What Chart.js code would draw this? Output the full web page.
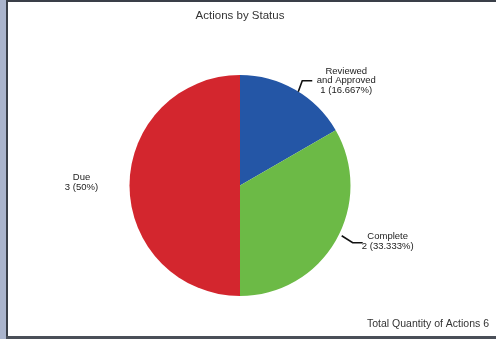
<!DOCTYPE html>
<html>
<head>
<meta charset="utf-8">
<script src="https://cdn.jsdelivr.net/npm/chart.js@4/dist/chart.umd.min.js"></script>
<style>
  html, body { margin: 0; padding: 0; background: #fff; }
  .frame { position: relative; width: 496px; height: 339px; overflow: hidden; }
  .band { position: absolute; left: 0; top: 0; width: 6px; height: 339px; background: #aab4cc; }
  .edgeL { position: absolute; left: 6px; top: 0; width: 2px; height: 339px; background: #3a3f48; }
  .edgeT { position: absolute; left: 6px; top: 0; width: 490px; height: 2px; background: #3a3f48; }
  .edgeB { position: absolute; left: 6px; top: 336px; width: 490px; height: 3px; background: #4a4f58; }
  canvas { position: absolute; left: 0; top: 0; }
</style>
</head>
<body>
<div class="frame">
  <canvas id="pie" width="496" height="339"></canvas>
  <div class="band"></div>
  <div class="edgeL"></div>
  <div class="edgeT"></div>
  <div class="edgeB"></div>
</div>
<script>
const statuses = ['Reviewed and Approved', 'Complete', 'Due'];
const labelLines = [['Reviewed', 'and Approved'], ['Complete'], ['Due']];
const quantities = [1, 2, 3];
const percentText = ['16.667%', '33.333%', '50%'];
const sliceColors = ['#2456a6', '#6cba46', '#d3262e'];

const total = quantities.reduce((a, b) => a + b, 0);

// draws the slice labels with their leader lines, title and footer
const pieLabels = {
  id: 'pieLabels',
  afterDraw(chart) {
    const ctx = chart.ctx;
    const arcs = chart.getDatasetMeta(0).data;
    ctx.save();
    ctx.fillStyle = '#222';
    ctx.strokeStyle = '#111';
    ctx.lineWidth = 1.6;
    ctx.font = '9.5px "Liberation Sans", Arial, sans-serif';
    ctx.textAlign = 'center';
    ctx.textBaseline = 'middle';
    const lh = 9.5;
    arcs.forEach((arc, i) => {
      const p = arc.getProps(['x', 'y', 'startAngle', 'endAngle', 'outerRadius'], true);
      const mid = (p.startAngle + p.endAngle) / 2;
      const ex = p.x + Math.cos(mid) * p.outerRadius;
      const ey = p.y + Math.sin(mid) * p.outerRadius;
      const lines = labelLines[i].concat([quantities[i] + ' (' + percentText[i] + ')']);
      if (i === 2) {
        // left side slice: text only
        const tx = ex - 48;
        lines.forEach((t, k) => ctx.fillText(t, tx, ey - lh / 2 + k * lh - 3));
        return;
      }
      const up = Math.sin(mid) < 0;
      let sx, sy, ox, oy, tx, top;
      if (up) {
        sx = ex + 3; sy = ey + 2;
        ox = sx + 4; oy = sy - 11;
        tx = ox + 10 + 34;
        top = oy - lh;
      } else {
        sx = ex + 6; sy = ey - 5;
        ox = sx + 11; oy = sy + 7;
        tx = ox + 9 + 26;
        top = oy - 6;
      }
      ctx.beginPath();
      ctx.moveTo(sx, sy);
      ctx.lineTo(ox, oy);
      ctx.lineTo(ox + 10, oy);
      ctx.stroke();
      lines.forEach((t, k) => ctx.fillText(t, tx, top + k * lh));
    });
    ctx.fillStyle = '#333';
    ctx.font = '11.5px "Liberation Sans", Arial, sans-serif';
    ctx.textAlign = 'center';
    ctx.fillText('Actions by Status', 240, 16);
    ctx.textAlign = 'right';
    ctx.font = '10.5px "Liberation Sans", Arial, sans-serif';
    ctx.fillText('Total Quantity of Actions ' + total, 489, 324);
    ctx.restore();
  }
};

new Chart(document.getElementById('pie'), {
  type: 'pie',
  data: {
    labels: statuses,
    datasets: [{
      data: quantities,
      backgroundColor: sliceColors,
      borderWidth: 0
    }]
  },
  options: {
    responsive: false,
    animation: false,
    layout: { padding: { top: 75, bottom: 43, left: 100, right: 116 } },
    plugins: {
      legend: { display: false },
      tooltip: { enabled: false }
    }
  },
  plugins: [pieLabels]
});
</script>
</body>
</html>
